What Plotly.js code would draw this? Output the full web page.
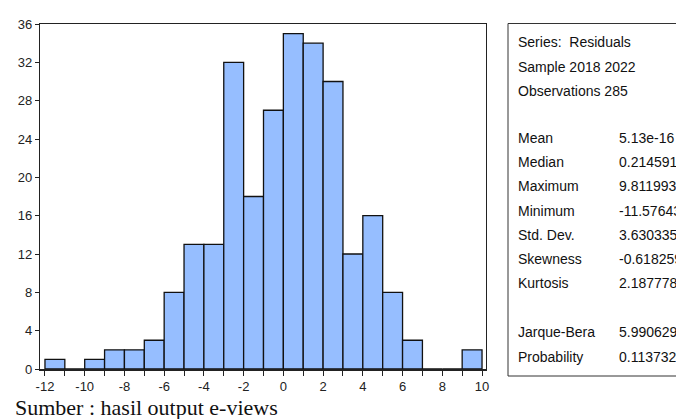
<!DOCTYPE html>
<html>
<head>
<meta charset="utf-8">
<script src="https://cdn.plot.ly/plotly-3.0.1.min.js"></script>
<style>html,body{margin:0;padding:0;background:#fff;}#chart{width:676px;height:419px;}</style>
</head>
<body>
<div id="chart"></div>
<script>
// Histogram of residuals (bin left edges, width 1)
const binLeft = [-12,-11,-10,-9,-8,-7,-6,-5,-4,-3,-2,-1,0,1,2,3,4,5,6,7,8,9];
const counts  = [1,0,1,2,2,3,8,13,13,32,18,27,35,34,30,12,16,8,3,0,0,2];
const xTickVals = [-12,-10,-8,-6,-4,-2,0,2,4,6,8,10];
const xTickText = ['-12','-10','-8','-6','-4','-2','0','2','4','6','8','10'];
const yTickVals = [0,4,8,12,16,20,24,28,32,36];
const headerLines = ['Series:  Residuals','Sample 2018 2022','Observations 285'];
const statNames  = ['Mean','Median','Maximum','Minimum','Std. Dev.','Skewness','Kurtosis','Jarque-Bera','Probability'];
const statValues = ['5.13e-16','0.214591','9.811993','-11.57643','3.630335','-0.618259','2.187778','5.990629','0.113732'];
const sourceNote = 'Sumber : hasil output e-views';

const W = 676, H = 419;
const M = {l:40, r:190, t:24, b:50};
const PW = W - M.l - M.r, PH = H - M.t - M.b;
const px = x => (x - M.l) / PW;
const py = y => (H - M.b - y) / PH;

const fontS = 'Liberation Sans Narrow, Arial Narrow, Liberation Sans, Arial, sans-serif';
const statFont = {family:fontS, size:14, color:'#111'};

const annotations = [];
const headerY = [42, 67, 91];
headerLines.forEach((t,i)=>annotations.push({text:t, xref:'paper', yref:'paper', x:px(516), y:py(headerY[i]), xanchor:'left', yanchor:'middle', showarrow:false, font:statFont}));
const statY = [138,162,186,211,235,259,283,332,357];
statNames.forEach((t,i)=>{
  annotations.push({text:t, xref:'paper', yref:'paper', x:px(516), y:py(statY[i]), xanchor:'left', yanchor:'middle', showarrow:false, font:statFont});
  annotations.push({text:statValues[i], xref:'paper', yref:'paper', x:px(617), y:py(statY[i]), xanchor:'left', yanchor:'middle', showarrow:false, font:statFont});
});
annotations.push({text:sourceNote, xref:'paper', yref:'paper', x:px(13), y:py(407), xanchor:'left', yanchor:'middle', showarrow:false, font:{family:'Liberation Serif, Times New Roman, serif', size:22, color:'#111'}});

const trace = {
  type:'bar', x:binLeft, y:counts, offset:0, width:1,
  marker:{color:'rgb(150,190,255)', line:{color:'#111', width:1.3}},
  hoverinfo:'skip'
};

const layout = {
  width:W, height:H, margin:M, showlegend:false,
  paper_bgcolor:'#fff', plot_bgcolor:'#fff',
  bargap:0,
  xaxis:{range:[-12.25,10.2], tickvals:xTickVals, ticktext:xTickText, ticks:'outside', ticklen:5, tickwidth:1, tickcolor:'#222',
    minor:{dtick:1, tick0:0, ticks:'outside', ticklen:5, tickwidth:1, tickcolor:'#222'},
    showgrid:false, zeroline:false, showline:true, mirror:true, linecolor:'#222', linewidth:1.5,
    tickfont:{family:fontS, size:13, color:'#222'}},
  yaxis:{range:[0,36], tickvals:yTickVals, ticks:'outside', ticklen:4, tickwidth:1, tickcolor:'#222',
    showgrid:false, zeroline:false, showline:true, mirror:true, linecolor:'#222', linewidth:1.2,
    tickfont:{family:fontS, size:13, color:'#222'}},
  shapes:[{type:'rect', xref:'paper', yref:'paper', x0:px(508), x1:px(720), y0:py(376), y1:py(23.5), line:{color:'#333', width:1}, fillcolor:'rgba(0,0,0,0)'}],
  annotations:annotations
};

Plotly.newPlot('chart',[trace],layout,{staticPlot:true, displayModeBar:false});
</script>
</body>
</html>
